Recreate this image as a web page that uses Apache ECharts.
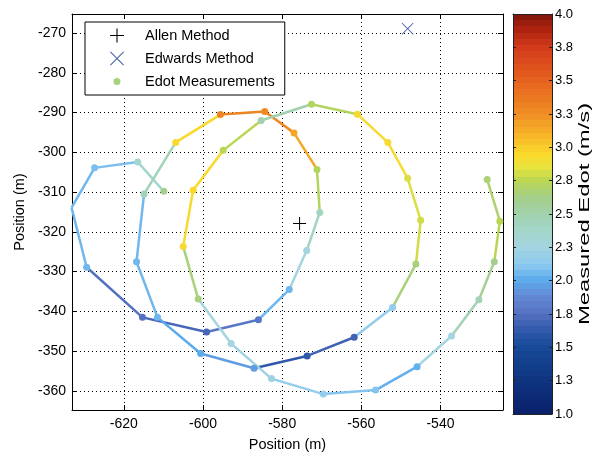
<!DOCTYPE html>
<html>
<head>
<meta charset="utf-8">
<script src="https://cdn.jsdelivr.net/npm/echarts@6/dist/echarts.min.js"></script>
<style>
  html, body { margin: 0; padding: 0; background: #fff; }
  #chart { width: 597px; height: 457px; }
</style>
</head>
<body>
<div id="chart"></div>
<script>
// measured track, in order along the spiral
const edotX = [-609.9, -616.5, -627.4, -633.2, -629.4, -615.3, -599.1, -586.0, -578.2, -573.8,
  -570.5, -571.2, -577.0, -584.4, -595.6, -606.9, -614.9, -616.8, -611.5, -600.6,
  -587.1, -573.7, -561.8, -552.1, -546.2, -545.0, -548.3, -553.3, -561.0, -572.6,
  -585.3, -594.9, -602.5, -605.0, -601.2, -592.9, -582.7, -569.6, -556.4, -545.9,
  -537.2, -530.3, -526.4, -525.0, -528.2];
const edotY = [-309.8, -302.4, -303.9, -313.9, -328.9, -341.5, -345.2, -342.1, -334.5, -324.7,
  -315.1, -304.3, -295.1, -289.7, -290.5, -297.5, -310.5, -327.5, -341.5, -350.6,
  -354.3, -351.2, -346.5, -339.0, -328.1, -317.1, -306.5, -297.5, -290.4, -287.9,
  -292.0, -299.5, -309.5, -323.7, -336.9, -348.1, -356.9, -360.8, -359.8, -353.9,
  -346.2, -337.1, -327.5, -317.3, -306.8];
const edotV = [2.6, 2.35, 2.08, 2.05, 2.05, 1.75, 1.7, 1.78, 2.05, 2.25,
  2.42, 2.72, 3.15, 3.28, 3.3, 2.95, 2.45, 2.05, 2.05, 2.0,
  1.95, 1.62, 1.68, 2.15, 2.65, 2.8, 2.82, 2.92, 2.93, 2.72,
  2.5, 2.75, 2.95, 2.93, 2.65, 2.25, 2.22, 2.15, 2.1, 2.02,
  2.25, 2.45, 2.6, 2.75, 2.68];

const allenPoint = [-575.6, -317.9];
const edwardsPoint = [-548.3, -268.9];

const xTicks = [-620, -600, -580, -560, -540];
const yTicks = [-360, -350, -340, -330, -320, -310, -300, -290, -280, -270];
const colorbarLabels = ['1.0', '1.3', '1.5', '1.8', '2.0', '2.3', '2.5', '2.8', '3.0', '3.3', '3.5', '3.8', '4.0'];

// colormap (looks like a softened jet)
const cmapStops = [
  [1.0, '#0a1f6a'], [1.25, '#0f3480'], [1.5, '#164a98'], [1.62, '#2f58aa'],
  [1.75, '#5470c0'], [1.88, '#6389d4'], [2.0, '#5caaec'], [2.12, '#8ccaef'],
  [2.25, '#a4d5e0'], [2.38, '#a3d6c8'], [2.5, '#a1d1ad'], [2.62, '#a4cf8a'],
  [2.75, '#b9d653'], [2.85, '#e9e33d'], [2.95, '#fbd82c'], [3.05, '#f8c02a'],
  [3.25, '#f08e24'], [3.5, '#e6621f'], [3.75, '#d23a1b'], [3.9, '#a8200f'], [4.0, '#7a1509']
];

function hexToRgb(h) {
  return [parseInt(h.slice(1, 3), 16), parseInt(h.slice(3, 5), 16), parseInt(h.slice(5, 7), 16)];
}

function cmap(v) {
  if (v <= cmapStops[0][0]) return cmapStops[0][1];
  for (let i = 1; i < cmapStops.length; i++) {
    if (v <= cmapStops[i][0]) {
      const a = cmapStops[i - 1], b = cmapStops[i];
      const t = (v - a[0]) / (b[0] - a[0]);
      const ca = hexToRgb(a[1]), cb = hexToRgb(b[1]);
      const c = ca.map((x, k) => Math.round(x + (cb[k] - x) * t));
      return 'rgb(' + c.join(',') + ')';
    }
  }
  return cmapStops[cmapStops.length - 1][1];
}

const font = 'Liberation Sans';

// each segment takes the colour of the point it runs into
const segments = [];
for (let i = 1; i < edotX.length; i++) {
  segments.push({
    coords: [[edotX[i - 1], edotY[i - 1]], [edotX[i], edotY[i]]],
    lineStyle: { color: cmap(edotV[i]) }
  });
}

// banded colorbar like matlab's 64-step colormap
const bandStops = [];
for (let k = 0; k < 64; k++) {
  const c = cmap(1 + (k + 0.5) * 3 / 64);
  bandStops.push({ offset: k / 64, color: c }, { offset: (k + 1) / 64, color: c });
}

const plusIcon = 'path://M6,0h1v6h6v1h-6v6h-1v-6h-6v-1h6z';
const crossIcon = 'path://M0,0.7L0.7,0L6.5,5.8L12.3,0L13,0.7L7.2,6.5L13,12.3L12.3,13L6.5,7.2L0.7,13L0,12.3L5.8,6.5Z';
const dotIcon = 'path://M0,0L0.01,0M14,14L14.01,14M3.5,7a3.5,3.5 0 1,0 7,0a3.5,3.5 0 1,0 -7,0Z';

const frameAxis = {
  axisLine: { show: true, onZero: false, lineStyle: { color: '#000', width: 1 } },
  axisTick: { show: true, inside: true, length: 5, lineStyle: { color: '#000' } }
};

const xMin = -633.1, xMax = -524.2, yMin = -364.8, yMax = -265.2;

const myChart = echarts.init(document.getElementById('chart'), null, { width: 597, height: 457 });

const option = {
  backgroundColor: '#fff',
  animation: false,
  grid: [
    { left: 72, top: 14, width: 431, height: 399 },
    { left: 513, top: 14, width: 39, height: 400 }
  ],
  legend: {
    data: [
      { name: 'Allen Method', icon: plusIcon },
      { name: 'Edwards Method', icon: crossIcon },
      { name: 'Edot Measurements', icon: dotIcon }
    ],
    orient: 'vertical',
    left: 85,
    top: 22,
    itemWidth: 46,
    itemHeight: 14,
    itemGap: 8,
    padding: [6, 10, 6, 25],
    backgroundColor: '#fff',
    borderColor: '#000',
    borderWidth: 1,
    selectedMode: false,
    textStyle: { fontFamily: font, fontSize: 14.5, color: '#000' }
  },
  xAxis: [
    {
      gridIndex: 0, type: 'value', min: xMin, max: xMax, splitNumber: 5, position: 'bottom',
      ...frameAxis,
      axisLabel: {
        color: '#000', fontFamily: font, fontSize: 14, margin: 7,
        formatter: v => (xTicks.includes(v) ? String(v) : '')
      },
      splitLine: { show: true, lineStyle: { color: '#000', type: [1, 3], width: 1 } },
      name: 'Position (m)', nameLocation: 'middle', nameGap: 27,
      nameTextStyle: { color: '#000', fontFamily: font, fontSize: 14.5 }
    },
    {
      gridIndex: 0, type: 'value', min: xMin, max: xMax, splitNumber: 5, position: 'top',
      ...frameAxis,
      axisLabel: { show: false }, splitLine: { show: false }
    },
    {
      gridIndex: 1, type: 'category', data: [''], position: 'bottom', z: 10,
      axisLine: { show: true, lineStyle: { color: '#222' } },
      axisTick: { show: false }, axisLabel: { show: false }
    },
    {
      gridIndex: 1, type: 'category', data: [''], position: 'top', z: 10,
      axisLine: { show: true, lineStyle: { color: '#222' } },
      axisTick: { show: false }, axisLabel: { show: false }
    }
  ],
  yAxis: [
    {
      gridIndex: 0, type: 'value', min: yMin, max: yMax, splitNumber: 10, position: 'left',
      ...frameAxis,
      axisLabel: {
        color: '#000', fontFamily: font, fontSize: 14, margin: 6,
        formatter: v => (yTicks.includes(v) ? String(v) : '')
      },
      splitLine: { show: true, lineStyle: { color: '#000', type: [1, 3], width: 1 } },
      name: 'Position (m)', nameLocation: 'middle', nameGap: 42,
      nameTextStyle: { color: '#000', fontFamily: font, fontSize: 14.5 }
    },
    {
      gridIndex: 0, type: 'value', min: yMin, max: yMax, splitNumber: 10, position: 'right',
      ...frameAxis,
      axisLabel: { show: false }, splitLine: { show: false }
    },
    {
      gridIndex: 1, type: 'value', min: 1, max: 4, interval: 0.25, position: 'right', z: 10,
      axisLine: { show: true, lineStyle: { color: '#222' } },
      axisTick: { show: true, inside: true, length: 3, lineStyle: { color: '#222' } },
      axisLabel: {
        color: '#000', fontFamily: font, fontSize: 13, margin: 3,
        formatter: (v, i) => colorbarLabels[i]
      },
      splitLine: { show: false }
    },
    {
      gridIndex: 1, type: 'value', min: 1, max: 4, interval: 0.25, position: 'left', z: 10,
      axisLine: { show: true, lineStyle: { color: '#222' } },
      axisTick: { show: true, inside: true, length: 3, lineStyle: { color: '#222' } },
      axisLabel: { show: false }, splitLine: { show: false }
    }
  ],
  graphic: [
    {
      type: 'text', x: 585, y: 214, rotation: Math.PI / 2, scaleX: 1.7,
      style: {
        text: 'Measured Edot (m/s)', fill: '#000', font: '14px "Liberation Sans"',
        textAlign: 'center', textVerticalAlign: 'middle', align: 'center', verticalAlign: 'middle'
      }
    }
  ],
  series: [
    {
      type: 'lines',
      coordinateSystem: 'cartesian2d',
      xAxisIndex: 0, yAxisIndex: 0,
      silent: true,
      lineStyle: { width: 2.5, opacity: 1 },
      data: segments,
      z: 2
    },
    {
      name: 'Edot Measurements',
      type: 'scatter',
      xAxisIndex: 0, yAxisIndex: 0,
      symbol: 'circle',
      symbolSize: 7,
      itemStyle: { color: '#a6d27f', opacity: 1 },
      data: edotX.map((x, i) => ({ value: [x, edotY[i]], itemStyle: { color: cmap(edotV[i]) } })),
      z: 3
    },
    {
      name: 'Allen Method',
      type: 'scatter',
      xAxisIndex: 0, yAxisIndex: 0,
      symbol: plusIcon,
      symbolSize: 13,
      itemStyle: { color: '#000', opacity: 1 },
      data: [allenPoint],
      z: 4
    },
    {
      name: 'Edwards Method',
      type: 'scatter',
      xAxisIndex: 0, yAxisIndex: 0,
      symbol: crossIcon,
      symbolSize: 12,
      itemStyle: { color: '#4b63a6', opacity: 1 },
      data: [edwardsPoint],
      z: 4
    },
    {
      type: 'custom',
      xAxisIndex: 2, yAxisIndex: 2,
      silent: true,
      z: 1,
      encode: { x: 0, y: [1, 2] },
      data: [[0, 1, 4]],
      renderItem: function (params, api) {
        const top = api.coord([0, api.value(2)]);
        const bot = api.coord([0, api.value(1)]);
        const w = api.size([1, 0])[0];
        return {
          type: 'rect',
          shape: { x: top[0] - w / 2, y: top[1], width: w, height: bot[1] - top[1] },
          style: { fill: new echarts.graphic.LinearGradient(0, 1, 0, 0, bandStops) }
        };
      }
    }
  ]
};

myChart.setOption(option);
</script>
</body>
</html>
